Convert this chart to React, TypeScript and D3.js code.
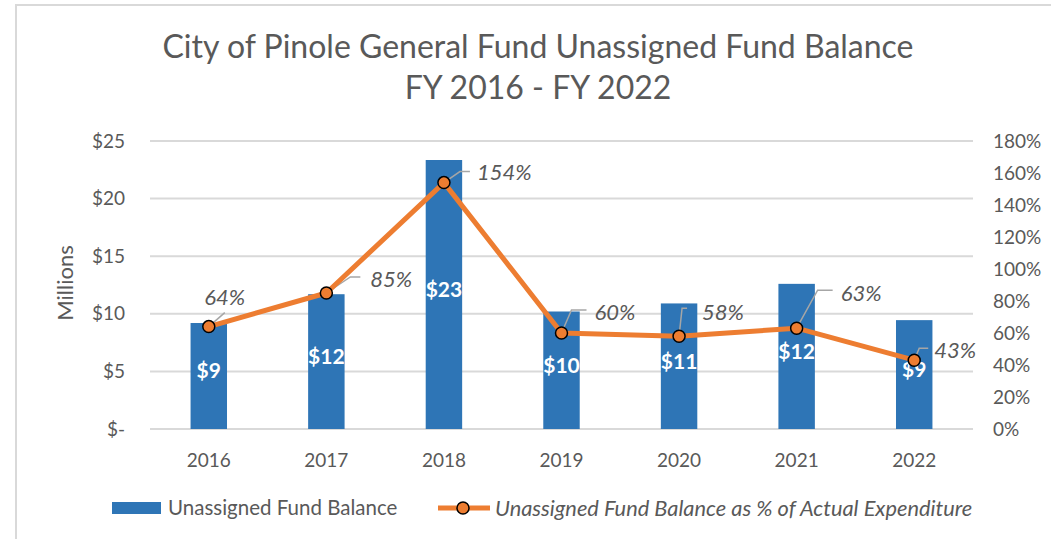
import React from "react";
import * as d3 from "d3";

const years = ["2016", "2017", "2018", "2019", "2020", "2021", "2022"];
const balances = [9.2, 11.7, 23.35, 10.2, 10.9, 12.6, 9.45];
const balanceLabels = ["$9", "$12", "$23", "$10", "$11", "$12", "$9"];
const percents = [64, 85, 154, 60, 58, 63, 43];
const leftTicks = [0, 5, 10, 15, 20, 25];
const rightTicks = [0, 20, 40, 60, 80, 100, 120, 140, 160, 180];
// label offsets (dx, dy) for percent data labels relative to point, with leader elbow
const pctLabelOffsets = [
  { lx: 16, ly: -29, ex: 16, ey: -14, hx: 16, anchor: "middle" },
  { lx: 44, ly: -14, ex: 24, ey: -16, hx: 34, anchor: "start" },
  { lx: 33, ly: -10, ex: 16, ey: -11, hx: 26, anchor: "start" },
  { lx: 33, ly: -21, ex: 10, ey: -23, hx: 25, anchor: "start" },
  { lx: 23, ly: -24, ex: 3, ey: -28, hx: 8, anchor: "start" },
  { lx: 44, ly: -35, ex: 21, ey: -38, hx: 36, anchor: "start" },
  { lx: 20, ly: -10, ex: 5, ey: -12, hx: 14, anchor: "start" },
];

const FONT = "Lato, 'Open Sans', sans-serif";
const GRAY = "#595959";
const BLUE = "#2E75B6";
const ORANGE = "#ED7D31";

export default function App() {
  const W = 1051, H = 539;
  const x = d3.scaleBand<string>().domain(years).range([150, 973]).paddingInner(0.69).paddingOuter(0.345);
  const yL = d3.scaleLinear().domain([0, 25]).range([429, 141]);
  const yR = d3.scaleLinear().domain([0, 180]).range([429, 141]);
  const cx = (d: string) => (x(d) as number) + x.bandwidth() / 2;
  const line = d3.line<number>().x((_, i) => cx(years[i])).y((d) => yR(d));

  return (
    <svg width={W} height={H} style={{ position: "absolute", left: 0, top: 0, background: "#fff" }} fontFamily={FONT}>
      <rect x={0} y={0} width={W} height={H} fill="#fff" />
      <rect x={16} y={5} width={1100} height={600} fill="none" stroke="#d9d9d9" strokeWidth={2} />
      <text x={538} y={58} textAnchor="middle" fontSize={32} fill={GRAY}>City of Pinole General Fund Unassigned Fund Balance</text>
      <text x={538} y={99} textAnchor="middle" fontSize={32} fill={GRAY}>FY 2016 - FY 2022</text>

      {leftTicks.map((t) => (
        <g key={"l" + t}>
          <line x1={150} x2={973} y1={yL(t)} y2={yL(t)} stroke="#d9d9d9" strokeWidth={2} />
          <text x={125} y={yL(t)} dy="0.35em" textAnchor="end" fontSize={19} fill={GRAY}>{t === 0 ? "$-" : "$" + t}</text>
        </g>
      ))}
      {rightTicks.map((t) => (
        <text key={"r" + t} x={993} y={yR(t)} dy="0.35em" textAnchor="start" fontSize={19} fill={GRAY}>{t + "%"}</text>
      ))}
      <text transform={`translate(65,283) rotate(-90)`} textAnchor="middle" dy="0.35em" fontSize={22} fill={GRAY}>Millions</text>

      {years.map((yr, i) => (
        <g key={yr}>
          <rect x={x(yr)} y={yL(balances[i])} width={x.bandwidth()} height={yL(0) - yL(balances[i])} fill={BLUE} />
          <text x={cx(yr)} y={(yL(balances[i]) + yL(0)) / 2 - 5} dy="0.35em" textAnchor="middle" fontSize={21} fontWeight="bold" fill="#fff">{balanceLabels[i]}</text>
          <text x={cx(yr)} y={460} dy="0.35em" textAnchor="middle" fontSize={19} fill={GRAY}>{yr}</text>
        </g>
      ))}

      {percents.map((p, i) => {
        const px = cx(years[i]);
        const py = yR(p);
        const o = pctLabelOffsets[i];
        return (
          <g key={"pl" + i}>
            <polyline points={`${px},${py} ${px + o.ex},${py + o.ey} ${px + o.hx},${py + o.ey}`} fill="none" stroke="#a6a6a6" strokeWidth={1.5} />
            <text x={px + o.lx} y={py + o.ly} dy="0.35em" textAnchor={o.anchor} fontSize={22} fontStyle="italic" fill={GRAY}>{p + "%"}</text>
          </g>
        );
      })}

      <path d={line(percents) || ""} fill="none" stroke={ORANGE} strokeWidth={5} strokeLinejoin="round" />
      {percents.map((p, i) => (
        <circle key={"c" + i} cx={cx(years[i])} cy={yR(p)} r={6} fill={ORANGE} stroke="#000" strokeWidth={1.5} />
      ))}

      <rect x={112} y={502} width={49} height={12} fill={BLUE} />
      <text x={168} y={508} dy="0.35em" fontSize={20.5} fill={GRAY}>Unassigned Fund Balance</text>
      <line x1={438} x2={490} y1={508} y2={508} stroke={ORANGE} strokeWidth={5} />
      <circle cx={463} cy={508} r={6} fill={ORANGE} stroke="#000" strokeWidth={1.5} />
      <text x={495} y={508} dy="0.35em" fontSize={21.8} fontStyle="italic" fill={GRAY}>Unassigned Fund Balance as % of Actual Expenditure</text>
    </svg>
  );
}
